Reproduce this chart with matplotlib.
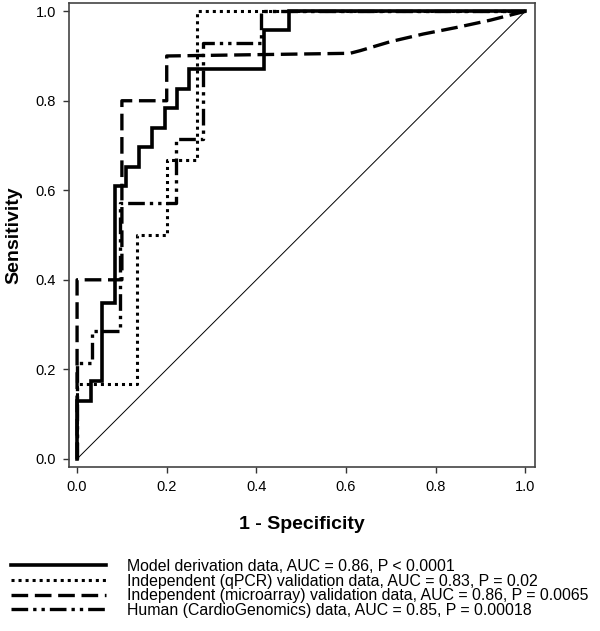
import matplotlib
matplotlib.use("Agg")
import matplotlib.pyplot as plt

plt.rcParams['font.family'] = ['Liberation Sans', 'DejaVu Sans']

# ROC curve vertices (1 - specificity, sensitivity)
model_fpr = [0, 0, 0.03, 0.03, 0.056, 0.056, 0.085, 0.085, 0.11, 0.11, 0.138, 0.138,
             0.167, 0.167, 0.196, 0.196, 0.223, 0.223, 0.25, 0.25, 0.417, 0.417,
             0.473, 0.473, 1.0]
model_tpr = [0, 0.13, 0.13, 0.174, 0.174, 0.348, 0.348, 0.609, 0.609, 0.652, 0.652,
             0.696, 0.696, 0.739, 0.739, 0.783, 0.783, 0.826, 0.826, 0.87, 0.87,
             0.957, 0.957, 1.0, 1.0]

qpcr_fpr = [0, 0, 0.133, 0.133, 0.2, 0.2, 0.267, 0.267, 1.0]
qpcr_tpr = [0, 0.167, 0.167, 0.5, 0.5, 0.667, 0.667, 1.0, 1.0]

micro_fpr = [0, 0, 0.1, 0.1, 0.2, 0.2, 0.609, 0.632, 0.699, 0.772, 0.848, 0.922, 1.0]
micro_tpr = [0, 0.4, 0.4, 0.8, 0.8, 0.9, 0.906, 0.912, 0.932, 0.949, 0.964, 0.98, 1.0]

human_fpr = [0, 0, 0.033, 0.033, 0.096, 0.096, 0.22, 0.22, 0.28, 0.28, 0.41, 0.41, 1.0]
human_tpr = [0, 0.214, 0.214, 0.286, 0.286, 0.571, 0.571, 0.714, 0.714, 0.929, 0.929, 1.0, 1.0]

labels = ['Model derivation data, AUC = 0.86, P < 0.0001',
          'Independent (qPCR) validation data, AUC = 0.83, P = 0.02',
          'Independent (microarray) validation data, AUC = 0.86, P = 0.0065',
          'Human (CardioGenomics) data, AUC = 0.85, P = 0.00018']

ticks = [0.0, 0.2, 0.4, 0.6, 0.8, 1.0]

fig = plt.figure(figsize=(6.0, 6.31), dpi=100)
ax = fig.add_axes([0.115, 0.26, 0.777, 0.735])

# diagonal reference
ax.plot([0, 1], [0, 1], color='black', lw=0.7)

l1, = ax.plot(model_fpr, model_tpr, color='black', lw=2.6, solid_joinstyle='miter')
l2, = ax.plot(qpcr_fpr, qpcr_tpr, color='black', lw=2.2, linestyle=(0, (1, 1.3)))
l3, = ax.plot(micro_fpr, micro_tpr, color='black', lw=2.4, linestyle=(0, (5, 2)))
l4, = ax.plot(human_fpr, human_tpr, color='black', lw=2.4,
              linestyle=(0, (5, 1.5, 1, 1.5, 1, 1.5)))

ax.set_xlim(-0.018, 1.022)
ax.set_ylim(-0.018, 1.018)
ax.set_xticks(ticks)
ax.set_yticks(ticks)
ax.set_xticklabels([f'{t:.1f}' for t in ticks])
ax.set_yticklabels([f'{t:.1f}' for t in ticks])
ax.tick_params(direction='out', length=4.5, width=1, labelsize=10.5, pad=5, color='#333333')
for s in ax.spines.values():
    s.set_color('#444444')
    s.set_linewidth(1.2)

ax.set_xlabel('1 - Specificity', fontsize=14, fontweight='bold', labelpad=16)
ax.set_ylabel('Sensitivity', fontsize=14, fontweight='bold', labelpad=9)

fig.legend([l1, l2, l3, l4], labels, loc='upper left',
           bbox_to_anchor=(0.019, 1 - 559 / 631), frameon=False,
           fontsize=11.4, handlelength=6.0, handletextpad=1.3,
           labelspacing=-0.03, borderpad=0, borderaxespad=0)

plt.savefig('out.png', dpi=100)
